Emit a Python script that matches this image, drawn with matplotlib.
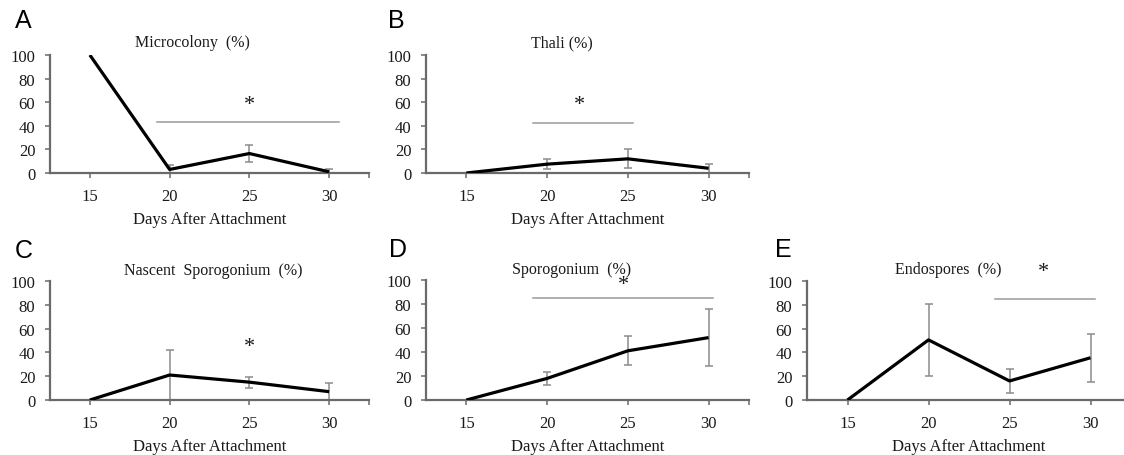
import matplotlib
matplotlib.use("Agg")
import matplotlib.pyplot as plt

plt.rcParams['font.family'] = ['Liberation Serif', 'DejaVu Serif']

days = [15, 20, 25, 30]
tick_labels = ['15', '20', '25', '30']

titles = ['Microcolony  (%)', 'Thali (%)', 'Nascent  Sporogonium  (%)', 'Sporogonium  (%)', 'Endospores  (%)']
letters = ['A', 'B', 'C', 'D', 'E']

microcolony = [100, 3, 16.5, 1]
microcolony_err = [None, 4, 7, 2.5]
thali = [0, 7.5, 12, 4]
thali_err = [None, 4.5, 8, 4]
nascent = [0, 21, 15, 7]
nascent_err = [None, 21, 4.5, 7.5]
sporogonium = [0, 18, 41, 52]
sporogonium_err = [None, 5.5, 12, 24]
endospores = [0, 50.5, 16, 35.5]
endospores_err = [None, 30, 10, 20]

series = [microcolony, thali, nascent, sporogonium, endospores]
errors = [microcolony_err, thali_err, nascent_err, sporogonium_err, endospores_err]

# significance bar: (x start, x end, y) and star (x, y)
sig_lines = [(19.2, 30.6, 43.5), (19.1, 25.3, 42), None, (19.1, 30.25, 85.3), (24.1, 30.3, 84.5)]
stars = [(25, 58), (22, 58), (25, 45), (24.7, 96), (27.1, 108)]

W, H = 1124, 456
fig = plt.figure(figsize=(W / 100, H / 100), dpi=100)

def fx(px):
    return px / W

def fy(py):
    return 1 - py / H

# axes boxes in pixels: left, right, y of 0, y of 100
boxes = [(50, 369, 174, 56), (426, 749, 174, 56), (50, 369, 401, 282),
         (426, 749, 401, 281), (807, 1131, 401, 282)]
title_pos = [(192, 43), (562, 43), (213, 271), (572, 270), (948, 270)]
letter_pos = [(15, 21), (388, 21), (15, 251), (389, 250), (775, 250)]

axis_col = '#6a6a6a'
err_col = '#8c8c8c'
sig_col = '#9a9a9a'

for i in range(5):
    l, r, y0, y1 = boxes[i]
    ax = fig.add_axes([fx(l), fy(y0), (r - l) / W, (y0 - y1) / H])
    ax.set_xlim(12.5, 32.5)
    ax.set_ylim(0, 100)
    ax.set_facecolor('none')
    for s in ['top', 'right']:
        ax.spines[s].set_visible(False)
    for s in ['left', 'bottom']:
        ax.spines[s].set_color(axis_col)
        ax.spines[s].set_linewidth(1.6)
    ax.set_xticks(days + [32.5])
    ax.set_xticklabels(tick_labels + [''])
    ax.set_yticks([0, 20, 40, 60, 80, 100])
    ax.tick_params(axis='both', direction='out', length=3.6, width=1.1, color=axis_col,
                   labelsize=12, labelcolor='#1a1a1a')
    ax.tick_params(axis='x', pad=7)
    ax.tick_params(axis='y', pad=7)
    ax.set_xlabel('Days After Attachment', fontsize=12, color='#1a1a1a', labelpad=5)

    vals = series[i]
    errs = errors[i]
    ex = [d for d, e in zip(days, errs) if e is not None]
    ey = [v for v, e in zip(vals, errs) if e is not None]
    ee = [e for e in errs if e is not None]
    ax.errorbar(ex, ey, yerr=ee, fmt='none', ecolor=err_col, elinewidth=1.1,
                capsize=2.6, capthick=1.1, zorder=2)
    ax.plot(days, vals, color='black', lw=2.3, zorder=3, solid_capstyle='butt')

    if sig_lines[i] is not None:
        xs, xe, yl = sig_lines[i]
        ax.plot([xs, xe], [yl, yl], color=sig_col, lw=1.1, clip_on=False)
    sx, sy = stars[i]
    ax.text(sx, sy, '*', ha='center', va='center', fontsize=16, color='#1a1a1a',
            clip_on=False)

    tx, ty = title_pos[i]
    fig.text(fx(tx), fy(ty), titles[i], ha='center', va='center', fontsize=11.5,
             color='#1a1a1a')
    lx, ly = letter_pos[i]
    fig.text(fx(lx), fy(ly), letters[i], ha='left', va='center', fontsize=18,
             family='Liberation Sans', color='black')

fig.savefig('out.png', dpi=100)
